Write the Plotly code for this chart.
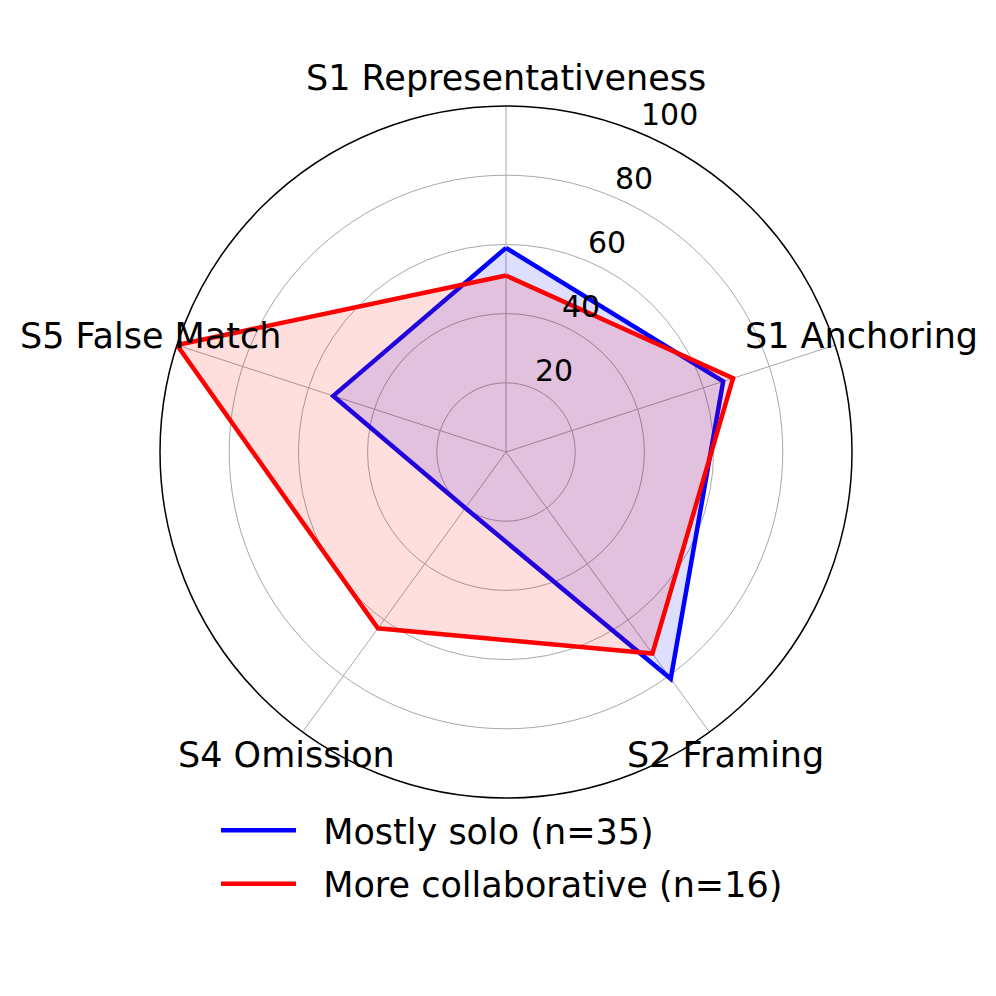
import math

import plotly.graph_objects as go

categories = ["S1 Representativeness", "S1 Anchoring", "S2 Framing", "S4 Omission", "S5 False Match"]
solo_values = [59, 66, 81, 20, 52.5]
collab_values = [51, 69, 72, 63, 100]
series_names = ["Mostly solo (n=35)", "More collaborative (n=16)"]
radial_ticks = [20, 40, 60, 80, 100]

FONT = "DejaVu Sans"
W = H = 996
# page has an 8px body margin, so positions are shifted back by 8
CX, CY, R = 498, 444, 346
RLABEL_ANGLE = 22.5  # degrees clockwise from the top

fig = go.Figure()
for name, vals, color, fillc in [
    (series_names[0], solo_values, "#0000ff", "rgba(0,0,255,0.13)"),
    (series_names[1], collab_values, "#ff0000", "rgba(255,0,0,0.13)"),
]:
    # fill first (no legend), then outline so the legend shows a plain line
    fig.add_trace(
        go.Scatterpolar(
            r=vals + vals[:1],
            theta=categories + categories[:1],
            mode="lines",
            fill="toself",
            fillcolor=fillc,
            line=dict(width=0),
            showlegend=False,
            hoverinfo="skip",
        )
    )
    fig.add_trace(
        go.Scatterpolar(
            r=vals + vals[:1],
            theta=categories + categories[:1],
            mode="lines",
            line=dict(color=color, width=4.5),
            name="\u00a0\u00a0" + name,
            legendgroup=name,
        )
    )

# category labels centred just outside the circle, like matplotlib does
n = len(categories)
for i, cat in enumerate(categories):
    ang = math.radians(90 - 360 / n * i)
    px = CX + 374 * math.cos(ang)
    py = CY - 374 * math.sin(ang)
    fig.add_annotation(
        x=px / W, y=1 - py / H, xref="paper", yref="paper",
        text=cat, showarrow=False, xanchor="center", yanchor="middle",
        font=dict(family=FONT, size=35, color="#000000"),
    )

# radial tick labels, left-aligned just above the 22.5 degree ray
a = math.radians(RLABEL_ANGLE)
for t in radial_ticks:
    rp = t / 100 * R
    px = CX + rp * math.sin(a) + 1
    py = CY - rp * math.cos(a) - 18
    fig.add_annotation(
        x=px / W, y=1 - py / H, xref="paper", yref="paper",
        text=str(t), showarrow=False, xanchor="left", yanchor="middle",
        font=dict(family=FONT, size=30, color="#000000"),
    )

fig.update_layout(
    width=W,
    height=H,
    paper_bgcolor="#ffffff",
    margin=dict(l=0, r=0, t=0, b=0),
    font=dict(family=FONT, color="#000000"),
    polar=dict(
        domain=dict(x=[(CX - R) / W, (CX + R) / W], y=[1 - (CY + R) / H, 1 - (CY - R) / H]),
        bgcolor="#ffffff",
        angularaxis=dict(
            rotation=90,
            direction="clockwise",
            showticklabels=False,
            ticks="",
            showline=True,
            linecolor="#000000",
            linewidth=1.5,
            gridcolor="#a8a8a8",
            gridwidth=1.4,
        ),
        radialaxis=dict(
            range=[0, 100],
            tickvals=radial_ticks,
            showticklabels=False,
            angle=90 - RLABEL_ANGLE,
            showline=False,
            ticks="",
            gridcolor="#a8a8a8",
            gridwidth=1.4,
        ),
    ),
    showlegend=True,
    legend=dict(
        x=208 / W, xanchor="left",
        y=1 - 793 / H, yanchor="top",
        font=dict(family=FONT, size=35, color="#000000"),
        itemwidth=75,
        tracegroupgap=5,
        bgcolor="rgba(0,0,0,0)",
    ),
)

fig.write_html("out.html")
